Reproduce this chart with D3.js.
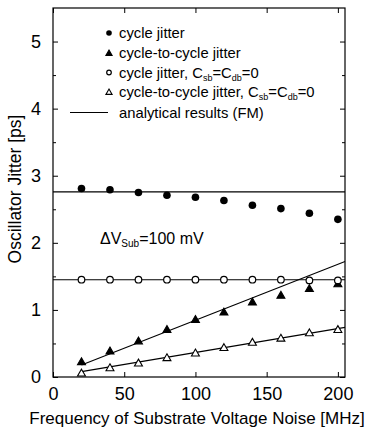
<!DOCTYPE html>
<html><head><meta charset="utf-8">
<script src="https://cdn.jsdelivr.net/npm/d3@7"></script>
<style>body{margin:0;background:#fff}svg{display:block}text{font-family:"Liberation Sans",Arial,Helvetica,sans-serif;fill:#000}</style>
</head><body><svg id="c" width="378" height="432"></svg>
<script>
const freq = [20,40,60,80,100,120,140,160,180,200];
const cycleJitter = [2.81,2.79,2.75,2.71,2.68,2.63,2.56,2.51,2.44,2.35];
const c2cJitter = [0.23,0.39,0.54,0.71,0.86,0.97,1.12,1.22,1.32,1.39];
const cycleJitterNoCap = [1.45,1.45,1.45,1.45,1.45,1.45,1.45,1.45,1.44,1.44];
const c2cJitterNoCap = [0.06,0.14,0.21,0.29,0.36,0.44,0.52,0.58,0.66,0.71];
// analytical results (FM)
const anaCycleF = [0,205], anaCycle = [2.76,2.76];
const anaCycleNoCapF = [0,205], anaCycleNoCap = [1.45,1.45];
const anaC2cF = [20,205], anaC2c = [0.18,1.72];
const anaC2cNoCapF = [20,205], anaC2cNoCap = [0.08,0.74];
const xTicks = [0,50,100,150,200];
const yTicks = [0,1,2,3,4,5];
const yMinor = [0.5,1.5,2.5,3.5,4.5];

const svg = d3.select("#c");
const L=53,R=345,T=8,B=377;
const x = d3.scaleLinear().domain([0,205]).range([L,R]);
const y = d3.scaleLinear().domain([0,5.5]).range([B,T]);

// frame
svg.append("rect").attr("x",L).attr("y",T).attr("width",R-L).attr("height",B-T)
  .attr("fill","none").attr("stroke","#000").attr("stroke-width",1.2);

// axes
const fmt = d3.format("d");
const gx = svg.append("g").attr("transform",`translate(0,${B})`)
  .call(d3.axisBottom(x).tickValues(xTicks).tickSize(-5).tickPadding(10).tickFormat(fmt));
const gy = svg.append("g").attr("transform",`translate(${L},0)`)
  .call(d3.axisLeft(y).tickValues(yTicks).tickSize(-5).tickPadding(12).tickFormat(fmt));
[gx,gy].forEach(g=>{g.select(".domain").remove();
  g.selectAll("text").attr("font-size",18).attr("font-family","Liberation Sans, Arial, sans-serif");
  g.selectAll("line").attr("stroke-width",1);});
svg.append("g").attr("transform",`translate(0,${T})`)
  .call(d3.axisTop(x).tickValues(xTicks).tickSize(-5).tickFormat("")).call(g=>g.select(".domain").remove());
svg.append("g").attr("transform",`translate(${R},0)`)
  .call(d3.axisRight(y).tickValues(yTicks).tickSize(-5).tickFormat("")).call(g=>g.select(".domain").remove());
svg.append("g").attr("transform",`translate(${L},0)`)
  .call(d3.axisLeft(y).tickValues(yMinor).tickSize(-3).tickFormat("")).call(g=>g.select(".domain").remove());
svg.append("g").attr("transform",`translate(${R},0)`)
  .call(d3.axisRight(y).tickValues(yMinor).tickSize(-3).tickFormat("")).call(g=>g.select(".domain").remove());

// axis titles
svg.append("text").attr("x",197).attr("y",424).attr("text-anchor","middle")
  .attr("font-size",17).text("Frequency of Substrate Voltage Noise [MHz]");
svg.append("text").attr("transform",`translate(21,189) rotate(-90)`).attr("text-anchor","middle")
  .attr("font-size",17.5).text("Oscillator Jitter [ps]");

// analytical lines
const line = d3.line().x(d=>x(d[0])).y(d=>y(d[1]));
[[anaCycleF,anaCycle],[anaCycleNoCapF,anaCycleNoCap],[anaC2cF,anaC2c],[anaC2cNoCapF,anaC2cNoCap]].forEach(([f,v])=>{
  svg.append("path").datum(f.map((d,i)=>[d,v[i]])).attr("d",line)
    .attr("fill","none").attr("stroke","#000").attr("stroke-width",1.1);
});

// markers
function marker(g, type, cx, cy, s){
  if(type==="fc") g.append("circle").attr("cx",cx).attr("cy",cy).attr("r",s).attr("fill","#000");
  if(type==="oc") g.append("circle").attr("cx",cx).attr("cy",cy).attr("r",s-0.5).attr("fill","#fff").attr("stroke","#000").attr("stroke-width",1.2);
  if(type==="ft"||type==="ot"){
    const h=s*1.9, w=s*1.1;
    g.append("path").attr("d",`M${cx},${cy-h*0.55}L${cx+w},${cy+h*0.45}L${cx-w},${cy+h*0.45}Z`)
      .attr("fill",type==="ft"?"#000":"#fff").attr("stroke","#000").attr("stroke-width",1.1);
  }
}
const series = [["fc",cycleJitter],["ft",c2cJitter],["oc",cycleJitterNoCap],["ot",c2cJitterNoCap]];
const gm = svg.append("g");
series.forEach(([t,vals])=>{
  freq.forEach((f,i)=>marker(gm,t,x(f),y(vals[i]),t[1]==="c"?3.8:3.6));
});

// legend
const lg = svg.append("g");
const lx=109, tx=119, ly=[33,53,72.5,92,112.5];
const types=["fc","ft","oc","ot"];
types.forEach((t,i)=>marker(lg,t,lx,ly[i],2.8));
lg.append("line").attr("x1",70).attr("x2",108).attr("y1",ly[4]).attr("y2",ly[4]).attr("stroke","#000").attr("stroke-width",1.1);
const labels = [
  [["cycle jitter",0]],
  [["cycle-to-cycle jitter",0]],
  [["cycle jitter, C",0],["sb",1],["=C",0],["db",1],["=0",0]],
  [["cycle-to-cycle jitter, C",0],["sb",1],["=C",0],["db",1],["=0",0]],
  [["analytical results (FM)",0]]
];
labels.forEach((parts,i)=>{
  const t = lg.append("text").attr("x",tx).attr("y",ly[i]+5).attr("font-size",14.8);
  let sub=false;
  parts.forEach(([s,isSub])=>{
    const ts=t.append("tspan").text(s);
    if(isSub){ts.attr("font-size",9).attr("dy",3);sub=true;}
    else if(sub){ts.attr("dy",-3);sub=false;}
  });
});

// annotation
const an = svg.append("text").attr("x",100).attr("y",244).attr("font-size",16);
an.append("tspan").text("ΔV");
an.append("tspan").text("Sub").attr("font-size",10).attr("dy",3);
an.append("tspan").text("=100 mV").attr("dy",-3);
</script></body></html>
